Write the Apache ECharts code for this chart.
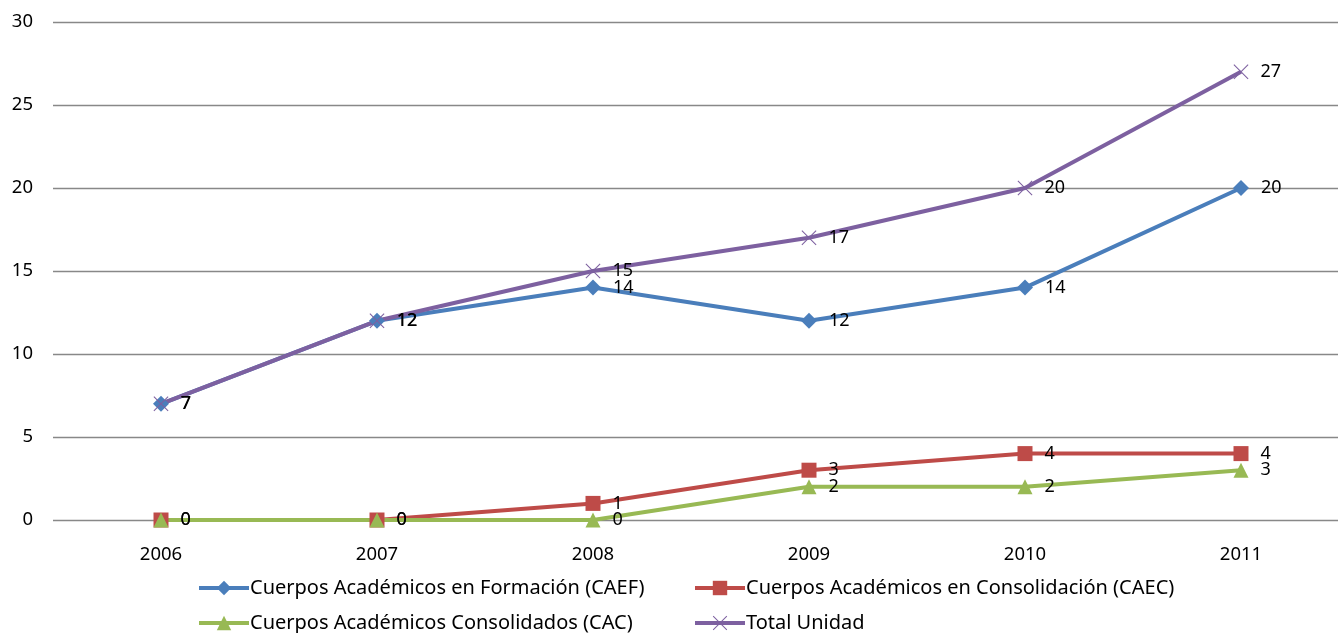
<!DOCTYPE html>
<html>
<head>
<meta charset="utf-8">
<script src="https://cdn.jsdelivr.net/npm/echarts@6/dist/echarts.min.js"></script>
<style>
html,body{margin:0;padding:0;background:#fff;}
#c{width:1338px;height:633px;}
</style>
</head>
<body>
<div id="c"></div>
<script>
var categories = ['2006','2007','2008','2009','2010','2011'];
var caef = [7,12,14,12,14,20];
var caec = [0,0,1,3,4,4];
var cac = [0,0,0,2,2,3];
var total = [7,12,15,17,20,27];
var yTicks = [0,5,10,15,20,25,30];
var names = ['Cuerpos Académicos en Formación (CAEF)','Cuerpos Académicos en Consolidación (CAEC)','Cuerpos Académicos Consolidados (CAC)','Total Unidad'];

var FONT = 'Noto Sans';
var crossPath = 'path://M0,0.5L0.5,0L5,4.5L9.5,0L10,0.5L5.5,5L10,9.5L9.5,10L5,5.5L0.5,10L0,9.5L4.5,5Z';

function mk(name, data, color, symbol, size) {
  return {
    name: name, type: 'line', data: data,
    symbol: symbol, symbolSize: size,
    lineStyle: {color: color, width: 4},
    itemStyle: {color: color},
    label: {show: true, position: 'right', distance: 12, color: '#000', fontFamily: FONT, fontSize: 18},
    animation: false
  };
}

function lg(name, left, top) {
  return {
    data: [name], left: left, top: top, padding: 0, itemWidth: 50, itemHeight: 18, itemGap: 0,
    lineStyle: {width: 4},
    textStyle: {fontFamily: FONT, fontSize: 20, color: '#000', padding: [0,0,0,-4]},
    selectedMode: false
  };
}

var chart = echarts.init(document.getElementById('c'));
chart.setOption({
  animation: false,
  grid: {left: 53, width: 1296, top: 22, bottom: 113, containLabel: false, outerBoundsMode: 'none'},
  xAxis: {
    type: 'category', data: categories, boundaryGap: true,
    axisLine: {show: false}, axisTick: {show: false},
    axisLabel: {color: '#000', fontFamily: FONT, fontSize: 18.5, margin: 25}
  },
  yAxis: {
    type: 'value', min: 0, max: 30, interval: 5,
    axisLine: {show: false}, axisTick: {show: false},
    axisLabel: {color: '#000', fontFamily: FONT, fontSize: 18.5, margin: 20,
      formatter: function(v){ return yTicks.indexOf(v) >= 0 ? String(v) : ''; }},
    splitLine: {lineStyle: {color: '#888888', width: 1.3}}
  },
  legend: [
    lg(names[0], 197, 578),
    lg(names[1], 693, 578),
    lg(names[2], 197, 613),
    lg(names[3], 693, 613)
  ],
  series: [
    mk(names[0], caef, '#4A7EBB', 'diamond', 16),
    mk(names[1], caec, '#BE4B48', 'rect', 15),
    mk(names[2], cac, '#98B954', 'triangle', 15),
    mk(names[3], total, '#7D60A0', crossPath, 15)
  ]
});
</script>
</body>
</html>
